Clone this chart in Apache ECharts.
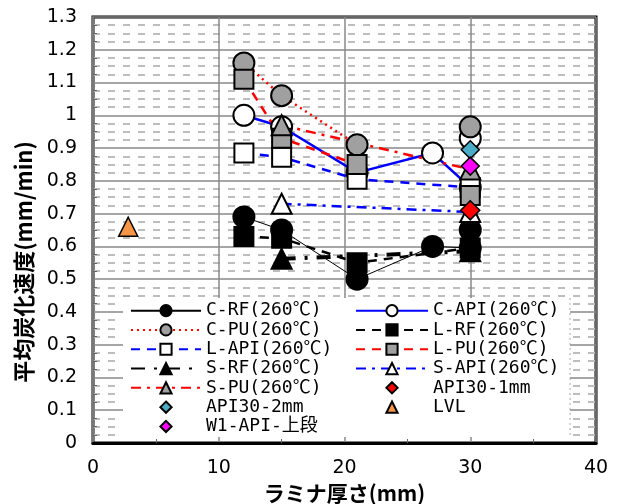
<!DOCTYPE html>
<html>
<head>
<meta charset="utf-8">
<script src="https://cdn.jsdelivr.net/npm/echarts@6/dist/echarts.min.js"></script>
<style>
  html, body { margin: 0; padding: 0; background: #fff; }
  #chart { width: 617px; height: 504px; }
</style>
</head>
<body>
<div id="chart"></div>
<script>
// values (x = laminate thickness mm, y = char rate mm/min)
// null in a y list = gap in the line
const xTicks = [0, 10, 20, 30, 40];

const cRfX = [12, 15, 21, 27, 30, 30];
const cRfY = [0.69, 0.65, 0.50, 0.60, 0.595, 0.65];
const cApiX = [12, 15, 21, 27, 30, 30];
const cApiY = [1.00, 0.965, 0.825, 0.885, 0.78, 0.93];
const cPuX = [12, 15, 21, 30, 30];
const cPuY = [1.16, 1.06, 0.91, null, 0.965];
const lRfX = [12, 15, 21, 30];
const lRfY = [0.63, 0.625, 0.55, 0.595];
const lApiX = [12, 15, 21, 30];
const lApiY = [0.885, 0.872, 0.805, 0.78];
const lPuX = [12, 15, 21, 30, 30];
const lPuY = [1.11, 0.93, 0.85, null, 0.755];
const sRfX = [15, 30];
const sRfY = [0.562, 0.585];
const sApiX = [15, 30];
const sApiY = [0.73, 0.705];
const sPuX = [15, 30];
const sPuY = [0.97, 0.835];
const api1X = [30];
const api1Y = [0.71];
const api2X = [30];
const api2Y = [0.895];
const lvlX = [2.8];
const lvlY = [0.66];
const w1X = [30];
const w1Y = [0.845];

const legendLeft = ["C-RF(260℃)", "C-PU(260℃)", "L-API(260℃)", "S-RF(260℃)", "S-PU(260℃)", "API30-2mm", "W1-API-上段"];
const legendRight = ["C-API(260℃)", "L-RF(260℃)", "L-PU(260℃)", "S-API(260℃)", "API30-1mm", "LVL"];

function pts(xs, ys) {
  return xs.map((x, i) => [x, ys[i] == null ? "-" : ys[i]]);
}

function lineSeries(name, xs, ys, symbol, size, fill, color, width, type) {
  return {
    name: name,
    type: "line",
    data: pts(xs, ys),
    symbol: symbol,
    symbolSize: size,
    showAllSymbol: true,
    connectNulls: false,
    itemStyle: { color: fill, borderColor: "#000", borderWidth: 2 },
    lineStyle: { color: color, width: width, type: type },
    emphasis: { disabled: true },
  };
}

// marker-only series, still a line series so the legend icon keeps its shape
function dotSeries(name, xs, ys, symbol, size, fill) {
  return {
    name: name,
    type: "line",
    data: pts(xs, ys),
    symbol: symbol,
    symbolSize: size,
    showAllSymbol: true,
    itemStyle: { color: fill, borderColor: "#000", borderWidth: 1.5 },
    lineStyle: { width: 0, opacity: 0 },
    emphasis: { disabled: true },
  };
}

const chart = echarts.init(document.getElementById("chart"));

const legendBase = {
  orient: "vertical",
  top: 301,
  itemHeight: 14,
  itemGap: 0,
  padding: 0,
  textStyle: {
    fontFamily: "'DejaVu Sans Mono', 'Noto Sans CJK JP'",
    fontSize: 18, color: "#000", lineHeight: 19.3,
  },
  z: 5,
};

chart.setOption({
  animation: false,
  backgroundColor: "#fff",
  grid: {
    left: 93, right: 21, top: 17, bottom: 61,
    outerBoundsMode: "none",
    show: true, borderColor: "#000", borderWidth: 3, backgroundColor: "#fff",
  },
  xAxis: {
    type: "value",
    min: xTicks[0],
    max: xTicks[xTicks.length - 1],
    interval: 10,
    name: "ラミナ厚さ(mm)",
    nameLocation: "middle",
    nameGap: 39,
    nameTextStyle: { fontFamily: "Noto Sans CJK JP", fontSize: 21, fontWeight: "bold", color: "#000" },
    axisLine: { show: true, lineStyle: { color: "#000", width: 3 } },
    axisTick: { show: false },
    minorTick: { show: true, splitNumber: 2, length: -4, lineStyle: { color: "#666" } },
    axisLabel: { fontFamily: "DejaVu Sans", fontSize: 19, color: "#000", margin: 16 },
    splitLine: { show: true, lineStyle: { color: "#888", width: 1.5 } },
  },
  yAxis: {
    type: "value",
    min: 0,
    max: 1.3,
    interval: 0.1,
    axisLine: { show: true, lineStyle: { color: "#777", width: 2 } },
    axisTick: { show: false },
    minorTick: { show: true, splitNumber: 4, length: -4, lineStyle: { color: "#666" } },
    axisLabel: {
      fontFamily: "DejaVu Sans", fontSize: 19, color: "#000", margin: 16,
      formatter: (v) => String(Math.round(v * 10) / 10),
    },
    splitLine: { show: true, lineStyle: { color: "#888", width: 1.5 } },
    minorSplitLine: { show: true, lineStyle: { color: "#bdbdbd", width: 2, type: [7, 8] } },
  },
  legend: [
    Object.assign({}, legendBase, { left: 130, itemWidth: 70, data: legendLeft }),
    Object.assign({}, legendBase, { left: 355, itemWidth: 72, data: legendRight }),
  ],
  graphic: [
    {
      type: "rect", z: 3,
      shape: { x: 123, y: 298, width: 447, height: 139 },
      style: { fill: "#fff", stroke: null },
    },
    {
      type: "line", z: 3,
      shape: { x1: 570, y1: 298, x2: 570, y2: 437 },
      style: { stroke: "#aaa", lineWidth: 1, lineDash: [2, 3] },
    },
    {
      type: "text", z: 3,
      x: 24, y: 262, rotation: Math.PI / 2,
      style: {
        text: "平均炭化速度(mm/min)",
        font: "bold 22px 'Noto Sans CJK JP'",
        fill: "#000", align: "center", verticalAlign: "middle",
      },
    },
  ],
  series: [
    lineSeries("C-RF(260℃)", cRfX, cRfY, "circle", 21, "#000", "#000", 1, "solid"),
    lineSeries("C-API(260℃)", cApiX, cApiY, "circle", 21, "#fff", "#0000ff", 2.5, "solid"),
    lineSeries("C-PU(260℃)", cPuX, cPuY, "circle", 21, "#a0a0a0", "#ff0000", 2.5, [2, 4]),
    lineSeries("L-RF(260℃)", lRfX, lRfY, "rect", 19, "#000", "#000", 2.5, [9, 7]),
    lineSeries("L-API(260℃)", lApiX, lApiY, "rect", 19, "#fff", "#0000ff", 2.5, [9, 7]),
    lineSeries("L-PU(260℃)", lPuX, lPuY, "rect", 19, "#a0a0a0", "#ff0000", 2.5, [9, 7]),
    lineSeries("S-RF(260℃)", sRfX, sRfY, "triangle", 20, "#000", "#000", 4, [14, 9, 3, 9]),
    lineSeries("S-API(260℃)", sApiX, sApiY, "triangle", 20, "#fff", "#0000ff", 2.5, [10, 6, 3, 6]),
    lineSeries("S-PU(260℃)", sPuX, sPuY, "triangle", 20, "#a0a0a0", "#ff0000", 2.5, [10, 6, 3, 6]),
    dotSeries("API30-1mm", api1X, api1Y, "diamond", 19, "#ff0000"),
    dotSeries("API30-2mm", api2X, api2Y, "diamond", 18, "#4bacc6"),
    dotSeries("LVL", lvlX, lvlY, "triangle", 19, "#f79646"),
    dotSeries("W1-API-上段", w1X, w1Y, "diamond", 18, "#ff00ff"),
  ],
});
</script>
</body>
</html>
